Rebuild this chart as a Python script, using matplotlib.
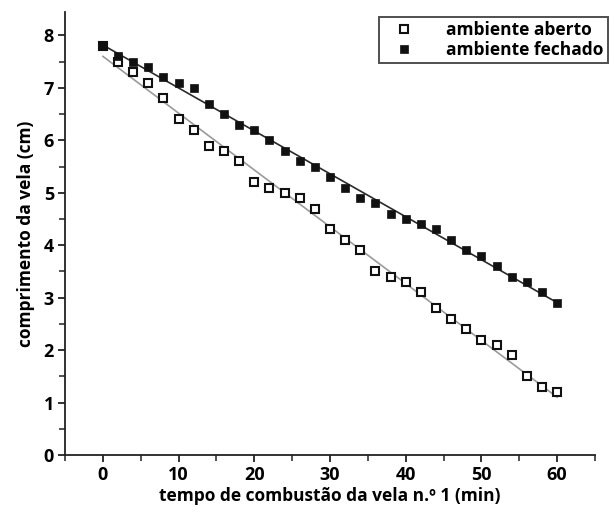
import numpy as np
import matplotlib.pyplot as plt
from matplotlib.ticker import MultipleLocator

# tempo (min)
tempo = list(range(0, 61, 2))

# comprimento da vela (cm)
aberto = [7.8, 7.5, 7.3, 7.1, 6.8, 6.4, 6.2, 5.9, 5.8, 5.6, 5.2,
          5.1, 5.0, 4.9, 4.7, 4.3, 4.1, 3.9, 3.5, 3.4, 3.3,
          3.1, 2.8, 2.6, 2.4, 2.2, 2.1, 1.9, 1.5, 1.3, 1.2]
fechado = [7.8, 7.6, 7.5, 7.4, 7.2, 7.1, 7.0, 6.7, 6.5, 6.3, 6.2,
           6.0, 5.8, 5.6, 5.5, 5.3, 5.1, 4.9, 4.8, 4.6, 4.5,
           4.4, 4.3, 4.1, 3.9, 3.8, 3.6, 3.4, 3.3, 3.1, 2.9]

plt.rcParams['font.family'] = ['Open Sans', 'DejaVu Sans']
plt.rcParams['font.weight'] = 'bold'

fig = plt.figure(figsize=(6.14, 5.17), dpi=100)
ax = fig.add_axes([0.106, 0.12, 0.863, 0.857])

t = np.array(tempo)
# linear fits
pa = np.polyfit(t, aberto, 1)
pf = np.polyfit(t, fechado, 1)
ax.plot(t, np.polyval(pa, t), color='#9a9a9a', lw=1.2, zorder=1)
ax.plot(t, np.polyval(pf, t), color='#2a2a2a', lw=1.2, zorder=1)

ax.plot(tempo, aberto, 's', ms=5.6, mfc='white', mec='#111111', mew=1.5,
        ls='none', label='ambiente aberto', zorder=3)
ax.plot(tempo, fechado, 's', ms=6.3, mfc='#111111', mec='#111111', mew=0.5,
        ls='none', label='ambiente fechado', zorder=4)

ax.set_xlim(-5, 65)
ax.set_ylim(0, 8.45)
ax.xaxis.set_major_locator(MultipleLocator(10))
ax.xaxis.set_minor_locator(MultipleLocator(5))
ax.yaxis.set_major_locator(MultipleLocator(1))
ax.yaxis.set_minor_locator(MultipleLocator(0.5))

for s in ['top', 'right']:
    ax.spines[s].set_visible(False)
for s in ['left', 'bottom']:
    ax.spines[s].set_linewidth(1.3)
    ax.spines[s].set_color('#222222')

ax.tick_params(which='major', length=5, width=1.3, color='#222222',
               labelsize=13, pad=3)
ax.tick_params(which='minor', length=4, width=1.1, color='#222222')

ax.set_xlabel('tempo de combustão da vela n.º 1 (min)', fontsize=12.5,
              fontweight='bold', labelpad=2)
ax.set_ylabel('comprimento da vela (cm)', fontsize=12.5,
              fontweight='bold', labelpad=6)

leg = ax.legend(loc='upper right', bbox_to_anchor=(0.99, 0.968),
                bbox_transform=fig.transFigure, fontsize=12.5,
                frameon=True, fancybox=False, edgecolor='#222222',
                handletextpad=1.2, borderpad=0.25, labelspacing=0.1,
                handlelength=2.4, borderaxespad=0)
leg.get_frame().set_linewidth(1.4)

fig.savefig('out.png', dpi=100)
